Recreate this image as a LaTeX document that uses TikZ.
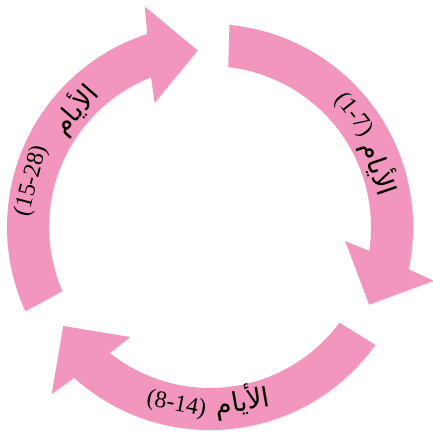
\documentclass[tikz,border=0pt]{standalone}
\usepackage{fontspec}
\setmainfont{Liberation Serif}
\newfontfamily\arabicfont[Script=Arabic]{DejaVu Sans}
\TeXXeTstate=1
\usetikzlibrary{shadows}
\definecolor{cyclepink}{RGB}{243,150,190}

\begin{document}
\begin{tikzpicture}[x=1pt, y=1pt]
        \tikzset{
            cyclearrow/.style={fill=cyclepink, draw=none, drop shadow={opacity=0.12, shadow xshift=1.2pt, shadow yshift=-1.2pt}},
            daynum/.style={inner sep=0pt, font=\fontsize{24}{28}\selectfont},
            dayword/.style={inner sep=0pt, font=\fontsize{27}{30}\selectfont\arabicfont}
        }
        \useasboundingbox (0,0) rectangle (432,441);

        \begin{scope}[shift={(210,214)}]
        % Arrows
        \fill[cyclearrow] (204.5:203) arc[start angle=204.5, end angle=108, radius=203] -- (106.5:230) -- (94:177) -- (114:136) -- (111.5:161) arc[start angle=111.5, end angle=203.5, radius=161] -- cycle;
        \fill[cyclearrow] (84.5:203) arc[start angle=84.5, end angle=-12, radius=203] -- (-13.5:230) -- (-26:177) -- (-6:136) -- (-8.5:161) arc[start angle=-8.5, end angle=83.5, radius=161] -- cycle;
        \fill[cyclearrow] (324.5:203) arc[start angle=324.5, end angle=228, radius=203] -- (226.5:230) -- (214:177) -- (234:136) -- (231.5:161) arc[start angle=231.5, end angle=323.5, radius=161] -- cycle;

        % Labels
        \node[daynum, rotate=-52] (num1) at (38:182) {(1-7)};
        \node[dayword, rotate=-71] (word1) at (19:179) {\beginR الأيام\endR};
        \node[daynum, rotate=-10.7] (num2) at (259.3:181) {(8-14)};
        \node[dayword, rotate=10] (word2) at (280.5:177) {\beginR الأيام\endR};
        \node[daynum, rotate=75.5] (num3) at (165.5:184) {(15-28)};
        \node[dayword, rotate=49] (word3) at (139:179) {\beginR الأيام\endR};
        \end{scope}
    \end{tikzpicture}
\end{document}
